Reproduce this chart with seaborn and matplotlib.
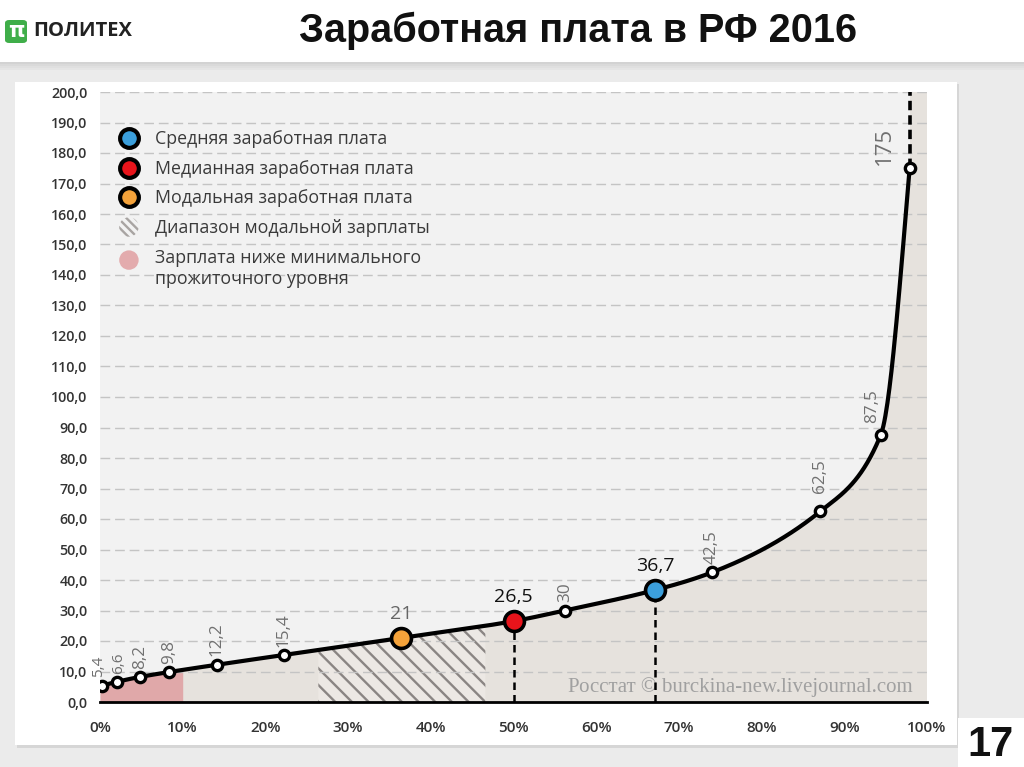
import numpy as np
import matplotlib
matplotlib.use("Agg")
import matplotlib.pyplot as plt
import seaborn as sns
from matplotlib.patches import Rectangle, FancyBboxPatch, Ellipse, Patch
from matplotlib.lines import Line2D
from matplotlib.legend_handler import HandlerPatch

# ---------------- data ----------------
percentiles = [0.3, 2.0, 4.8, 8.3, 14.1, 22.2, 36.4, 50.0, 56.2, 67.1, 74.0, 87.1, 94.4, 97.9]
wages = [5.4, 6.6, 8.2, 9.8, 12.2, 15.4, 21.0, 26.5, 30.0, 36.7, 42.5, 62.5, 87.5, 175.0]
wage_labels = ["5,4", "6,6", "8,2", "9,8", "12,2", "15,4", "21", "26,5", "30", "36,7",
               "42,5", "62,5", "87,5", "175"]
point_kind = ["decile", "decile", "decile", "decile", "decile", "decile", "mode", "median",
              "decile", "mean", "decile", "decile", "decile", "decile"]
modal_range = [26.4, 46.6]
subsistence_limit = 10.0
y_ticks = list(range(0, 201, 10))
y_tick_labels = [f"{v},0" for v in y_ticks]
x_ticks = list(range(0, 101, 10))
x_tick_labels = [f"{v}%" for v in x_ticks]
legend_labels = ["Средняя заработная плата", "Медианная заработная плата",
                 "Модальная заработная плата", "Диапазон модальной зарплаты",
                 "Зарплата ниже минимального\nпрожиточного уровня"]
title = "Заработная плата в РФ 2016"
source_note = "Росстат © burckina-new.livejournal.com"
page_number = "17"

# ---------------- style ----------------
C_BG_PLOT = "#f2f2f2"
C_FILL = "#e6e2dd"
C_PINK = "#e0a8a9"
C_HATCH = "#8a8583"
C_GRID = "#c4c4c4"
KIND_COLOR = {"mean": "#3b9fdc", "median": "#e8141b", "mode": "#f4a23a"}
LABEL_STYLE = {  # kind -> (color, fontsize, rotation)
    "decile": ("#707070", 12.3, 90),
    "mode": ("#666666", 14, 0),
    "median": ("#111111", 14, 0),
    "mean": ("#111111", 14, 0),
}
LABEL_OFFSETS = {0: (-2.5, 6), 1: (1.5, 6), 12: (-6, 9), 11: (0, 13), 13: (-18, 2)}
LABEL_SIZE_OVERRIDE = {0: 11, 1: 11, 13: 16}

sns.set_style("white")
plt.rcParams["font.family"] = ["Open Sans", "DejaVu Sans"]
plt.rcParams["hatch.linewidth"] = 1.7
plt.rcParams["hatch.color"] = C_HATCH


def pchip(x, y, xs):
    x = np.asarray(x, float)
    y = np.asarray(y, float)
    h = np.diff(x)
    d = np.diff(y) / h
    n = len(x)
    m = np.zeros(n)
    for k in range(1, n - 1):
        if d[k - 1] * d[k] > 0:
            w1 = 2 * h[k] + h[k - 1]
            w2 = h[k] + 2 * h[k - 1]
            m[k] = (w1 + w2) / (w1 / d[k - 1] + w2 / d[k])

    def end(h0, h1, d0, d1):
        s = ((2 * h0 + h1) * d0 - h0 * d1) / (h0 + h1)
        if np.sign(s) != np.sign(d0):
            s = 0.0
        elif np.sign(d0) != np.sign(d1) and abs(s) > abs(3 * d0):
            s = 3 * d0
        return s

    m[0] = end(h[0], h[1], d[0], d[1])
    m[-1] = end(h[-1], h[-2], d[-1], d[-2])
    xs = np.asarray(xs, float)
    idx = np.clip(np.searchsorted(x, xs) - 1, 0, n - 2)
    t = (xs - x[idx]) / h[idx]
    h00 = 2 * t**3 - 3 * t**2 + 1
    h10 = t**3 - 2 * t**2 + t
    h01 = -2 * t**3 + 3 * t**2
    h11 = t**3 - t**2
    return h00 * y[idx] + h10 * h[idx] * m[idx] + h01 * y[idx + 1] + h11 * h[idx] * m[idx + 1]


W, H = 1024, 767
fig = plt.figure(figsize=(W / 100, H / 100), dpi=100, facecolor="#ebebeb")


def px_rect(x0, y0, x1, y1, **kw):
    fig.patches.append(Rectangle((x0 / W, 1 - y1 / H), (x1 - x0) / W, (y1 - y0) / H,
                                 transform=fig.transFigure, zorder=-5, **kw))


# header and card
px_rect(0, 0, W, 62, facecolor="white", edgecolor="none")
for i, a in enumerate([0.10, 0.07, 0.045, 0.025]):
    px_rect(0, 62 + i * 2, W, 64 + i * 2, facecolor="black", alpha=a, edgecolor="none")
px_rect(17, 84, 959, 748, facecolor="#d6d6d6", edgecolor="none")
px_rect(15, 82, 957, 745, facecolor="white", edgecolor="none")
px_rect(958, 718, W, H, facecolor="white", edgecolor="none")

# logo
fig.patches.append(FancyBboxPatch((5 / W, 1 - 43 / H), 22 / W, 23 / H,
                                  boxstyle="round,pad=0,rounding_size=0.004",
                                  transform=fig.transFigure, facecolor="#3fae49",
                                  edgecolor="none", zorder=-4))
fig.text(16 / W, 1 - 31 / H, "π", color="white", fontsize=15, fontweight="bold",
         ha="center", va="center", family=["DejaVu Sans"])
fig.text(33 / W, 1 - 31 / H, "ПОЛИТЕХ", color="#222222", fontsize=14.5, fontweight="bold",
         ha="left", va="center", family=["Open Sans", "DejaVu Sans"])
fig.text(578 / W, 1 - 31 / H, title, color="#111111", fontsize=28.5, fontweight="bold",
         ha="center", va="center", family=["Liberation Sans", "DejaVu Sans"])
fig.text(991 / W, 1 - 745 / H, page_number, color="#111111", fontsize=30, fontweight="bold",
         ha="center", va="center", family=["Liberation Sans", "DejaVu Sans"])

# axes
ax = fig.add_axes([100 / W, 1 - 702 / H, 827 / W, 610 / H])
ax.set_zorder(2)
ax.set_facecolor(C_BG_PLOT)
ax.set_xlim(0, 100)
ax.set_ylim(0, 200)

x_first, x_last = percentiles[0], percentiles[-1]
xs_curve = np.linspace(x_first, x_last, 800)
ys_curve = pchip(percentiles, wages, xs_curve)

# fills under curve
xs_fill = np.concatenate([[0.0], xs_curve])
ys_fill = np.concatenate([[wages[0]], ys_curve])
ax.fill_between(xs_fill, 0, ys_fill, color=C_FILL, lw=0, zorder=1)
ax.fill_between([x_last, 100], 0, 200, color=C_FILL, lw=0, zorder=1)
xs_pink = np.linspace(x_first, subsistence_limit, 100)
ax.fill_between(np.concatenate([[0.0], xs_pink]), 0,
                np.concatenate([[wages[0]], pchip(percentiles, wages, xs_pink)]),
                color=C_PINK, lw=0, zorder=1.1)
xs_mod = np.linspace(modal_range[0], modal_range[1], 100)
ax.fill_between(xs_mod, 0, pchip(percentiles, wages, xs_mod), facecolor="#ece8e4",
                edgecolor=C_HATCH, hatch="\\\\", lw=0, zorder=1.2)

# grid
ax.set_yticks(y_ticks)
ax.set_yticklabels(y_tick_labels)
ax.set_xticks(x_ticks)
ax.set_xticklabels(x_tick_labels)
ax.yaxis.grid(True, color=C_GRID, lw=1, linestyle=(0, (7, 3.5)))
ax.xaxis.grid(False)
ax.set_axisbelow(False)
for s in ["top", "right", "left"]:
    ax.spines[s].set_visible(False)
ax.spines["bottom"].set_color("black")
ax.spines["bottom"].set_linewidth(2)
ax.spines["bottom"].set_zorder(6)
ax.tick_params(axis="y", length=0, pad=9, labelsize=10.3, labelcolor="#333333")
ax.tick_params(axis="x", length=5, width=1.8, color="black", pad=8.5, labelsize=11,
               labelcolor="#333333", direction="out")
for lab in ax.get_yticklabels() + ax.get_xticklabels():
    lab.set_fontweight("semibold")

# source watermark
ax.text(98.3, 5.0, source_note, ha="right", va="center", fontsize=15, color="#a0a0a0",
        family=["Liberation Serif", "DejaVu Serif"], zorder=2)

# dashed verticals
for px_, w_, k in zip(percentiles, wages, point_kind):
    if k in ("median", "mean"):
        ax.vlines(px_, 0, w_, colors="black", lw=1.8, linestyles=(0, (3, 2)), zorder=3)
ax.vlines(x_last, wages[-1], 200, colors="black", lw=2.6, linestyles=(0, (2.6, 1.4)), zorder=3)

# curve
sns.lineplot(x=xs_curve, y=ys_curve, ax=ax, color="black", lw=3, sort=False,
             estimator=None, zorder=4)

# markers
dec_x = [p for p, k in zip(percentiles, point_kind) if k == "decile"]
dec_y = [w for w, k in zip(wages, point_kind) if k == "decile"]
sns.scatterplot(x=dec_x, y=dec_y, ax=ax, s=55, color="white", edgecolor="black",
                linewidth=2.4, zorder=5)
for p, w, k in zip(percentiles, wages, point_kind):
    if k in KIND_COLOR:
        sns.scatterplot(x=[p], y=[w], ax=ax, s=205, color=KIND_COLOR[k], edgecolor="black",
                        linewidth=2.6, zorder=6)

# value labels
for i, (p, w, lab, k) in enumerate(zip(percentiles, wages, wage_labels, point_kind)):
    col, fs, rot = LABEL_STYLE[k]
    fs = LABEL_SIZE_OVERRIDE.get(i, fs)
    if rot == 90:
        off = LABEL_OFFSETS.get(i, (0, 6))
    else:
        off = (0, 11)
    ax.annotate(lab, (p, w), xytext=off, textcoords="offset points", ha="center",
                va="bottom", rotation=rot, fontsize=fs, color=col, zorder=7)


# legend
class ShiftPatch(Patch):
    def __init__(self, shift=0.0, **kw):
        super().__init__(**kw)
        self._shift = shift

    def get_label_shift(self):
        return self._shift


def make_ellipse(legend, orig_handle, xdescent, ydescent, width, height, fontsize):
    d = 14.0
    return Ellipse((width / 2 - xdescent, height / 2 - ydescent + orig_handle.get_label_shift()),
                   d, d)


handles = [
    Line2D([], [], ls="none", marker="o", markersize=13.5, markerfacecolor=KIND_COLOR["mean"],
           markeredgecolor="black", markeredgewidth=3.0),
    Line2D([], [], ls="none", marker="o", markersize=13.5, markerfacecolor=KIND_COLOR["median"],
           markeredgecolor="black", markeredgewidth=3.0),
    Line2D([], [], ls="none", marker="o", markersize=13.5, markerfacecolor=KIND_COLOR["mode"],
           markeredgecolor="black", markeredgewidth=3.0),
    ShiftPatch(shift=0.0, facecolor="none", edgecolor="#a8a4a2", hatch="\\\\\\\\", lw=0),
    ShiftPatch(shift=6.5, facecolor="#e3abad", edgecolor="none", lw=0),
]
hp = HandlerPatch(patch_func=make_ellipse)
leg = ax.legend(handles, legend_labels, loc="upper left",
                bbox_to_anchor=(114.7 / W, 1 - 130 / H), bbox_transform=fig.transFigure,
                frameon=False, fontsize=12.8, labelcolor="#3a3a3a", handlelength=1.6,
                handletextpad=0.65, labelspacing=0.66, borderpad=0, borderaxespad=0,
                handler_map={ShiftPatch: hp})
leg.set_zorder(8)

fig.savefig("out.png", dpi=100, facecolor=fig.get_facecolor())
